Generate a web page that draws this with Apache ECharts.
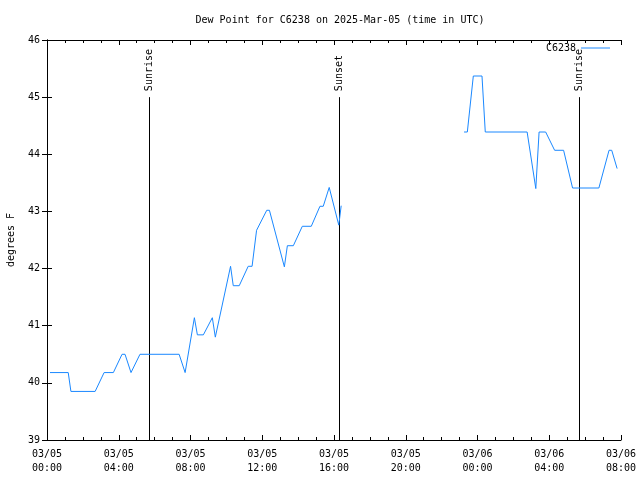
<!DOCTYPE html>
<html><head><meta charset="utf-8">
<script src="https://cdn.jsdelivr.net/npm/echarts@6/dist/echarts.min.js"></script>
<style>html,body{margin:0;padding:0;background:#fff}#c{width:640px;height:480px}</style>
</head><body><div id="c"></div>
<script>
const titleText = 'Dew Point for C6238 on 2025-Mar-05 (time in UTC)';
const seriesName = 'C6238';
const yAxisName = 'degrees F';
const times = ['03/05 00:10','03/05 01:11','03/05 01:20','03/05 02:41','03/05 03:11','03/05 03:42','03/05 04:11','03/05 04:21','03/05 04:41','03/05 05:11','03/05 07:22','03/05 07:42','03/05 08:13','03/05 08:23','03/05 08:43','03/05 09:13','03/05 09:23','03/05 10:14','03/05 10:23','03/05 10:43','03/05 11:13','03/05 11:26','03/05 11:41','03/05 12:15','03/05 12:24','03/05 13:14','03/05 13:24','03/05 13:44','03/05 14:14','03/05 14:44','03/05 15:13','03/05 15:24','03/05 15:44','03/05 16:16','03/05 16:24','03/05 20:00','03/05 23:15','03/05 23:26','03/05 23:46','03/06 00:15','03/06 00:26','03/06 02:46','03/06 03:15','03/06 03:26','03/06 03:48','03/06 04:18','03/06 04:48','03/06 05:18','03/06 06:46','03/06 07:20','03/06 07:29','03/06 07:47'];
const dewF = [40.18,40.18,39.85,39.85,40.18,40.18,40.50,40.50,40.18,40.50,40.50,40.18,41.14,40.84,40.84,41.14,40.80,42.04,41.70,41.70,42.04,42.04,42.67,43.02,43.02,42.03,42.40,42.40,42.74,42.74,43.09,43.09,43.42,42.76,43.10,null,44.39,44.39,45.37,45.37,44.39,44.39,43.40,44.39,44.39,44.07,44.07,43.41,43.41,44.07,44.07,43.75];
const sunTimes = ['03/05 05:40','03/05 16:18','03/06 05:40'];
const sunLabels = ['Sunrise','Sunset','Sunrise'];
const sunTop = 45;
const yMin = 39, yMax = 46, yStep = 1;
const xStartDay = 5, xSpanHours = 32, xStepHours = 4;

function toHours(s){
  const [md, hm] = s.split(' ');
  const day = parseInt(md.split('/')[1],10);
  const [h,m] = hm.split(':').map(Number);
  return (day - xStartDay)*24 + h + m/60;
}
function pad(n){return (n<10?'0':'')+n;}
const FONT = 'DejaVu Sans Mono';
const LINE_COLOR = '#1a88ff';
const lineData = times.map((t,i)=>[toHours(t), dewF[i]]);
const sunData = sunTimes.map(t=>[toHours(t), sunTop, yMin]);

const chart = echarts.init(document.getElementById('c'), null, {renderer:'canvas'});
const axisCommon = {
  axisLine:{show:true,lineStyle:{color:'#000',width:1}},
  axisTick:{show:true,inside:true,length:5,lineStyle:{color:'#000'}},
  splitLine:{show:false}
};
chart.setOption({
  animation:false,
  backgroundColor:'#fff',
  title:{text:titleText,left:335,textAlign:'center',top:10,textStyle:{fontFamily:FONT,fontSize:10,fontWeight:'normal',color:'#000'}},
  legend:{data:[{name:seriesName,icon:'rect'}],right:30,top:43,padding:0,align:'right',itemWidth:29,itemHeight:1,
    itemStyle:{color:LINE_COLOR},
    textStyle:{fontFamily:FONT,fontSize:10,color:'#000'}},
  grid:{left:47,right:19,top:40,bottom:40,containLabel:false,outerBoundsMode:'none'},
  xAxis:[
    Object.assign({type:'value',position:'bottom',min:0,max:xSpanHours,interval:xStepHours,
      minorTick:{show:true,splitNumber:4,length:3,lineStyle:{color:'#000'}},
      axisLabel:{fontFamily:FONT,fontSize:10,color:'#000',lineHeight:14,margin:7,
        formatter:v=>{const d=xStartDay+Math.floor(v/24);const h=v%24;return '03/'+pad(d)+'\n'+pad(h)+':00';}}},axisCommon),
    Object.assign({type:'value',position:'top',min:0,max:xSpanHours,interval:xStepHours,
      minorTick:{show:true,splitNumber:4,length:3,lineStyle:{color:'#000'}},
      axisLabel:{show:false}},axisCommon)
  ],
  yAxis:[
    Object.assign({type:'value',position:'left',min:yMin,max:yMax,interval:yStep,
      name:yAxisName,nameLocation:'middle',nameRotate:90,nameGap:31,
      nameTextStyle:{fontFamily:FONT,fontSize:10,color:'#000'},
      axisLabel:{fontFamily:FONT,fontSize:10,color:'#000',margin:7}},axisCommon),
    Object.assign({type:'value',position:'right',min:yMin,max:yMax,interval:yStep,
      axisLabel:{show:false}},axisCommon)
  ],
  series:[
    {type:'line',name:seriesName,data:lineData,symbol:'none',connectNulls:false,
      lineStyle:{color:LINE_COLOR,width:1},itemStyle:{color:LINE_COLOR}},
    {type:'custom',name:'sun',data:sunData,silent:true,
      renderItem:(params,api)=>{
        const top=api.coord([api.value(0),api.value(1)]);
        const bot=api.coord([api.value(0),api.value(2)]);
        const x=Math.round(top[0])+0.5;
        return {type:'group',children:[
          {type:'line',shape:{x1:x,y1:top[1],x2:x,y2:bot[1]},style:{stroke:'#000',lineWidth:1}},
          {type:'text',x:x,y:top[1]-6,rotation:Math.PI/2,
            style:{text:sunLabels[params.dataIndex],fill:'#000',font:'10px '+FONT,align:'left',verticalAlign:'middle'}}
        ]};
      }}
  ]
});
</script></body></html>
